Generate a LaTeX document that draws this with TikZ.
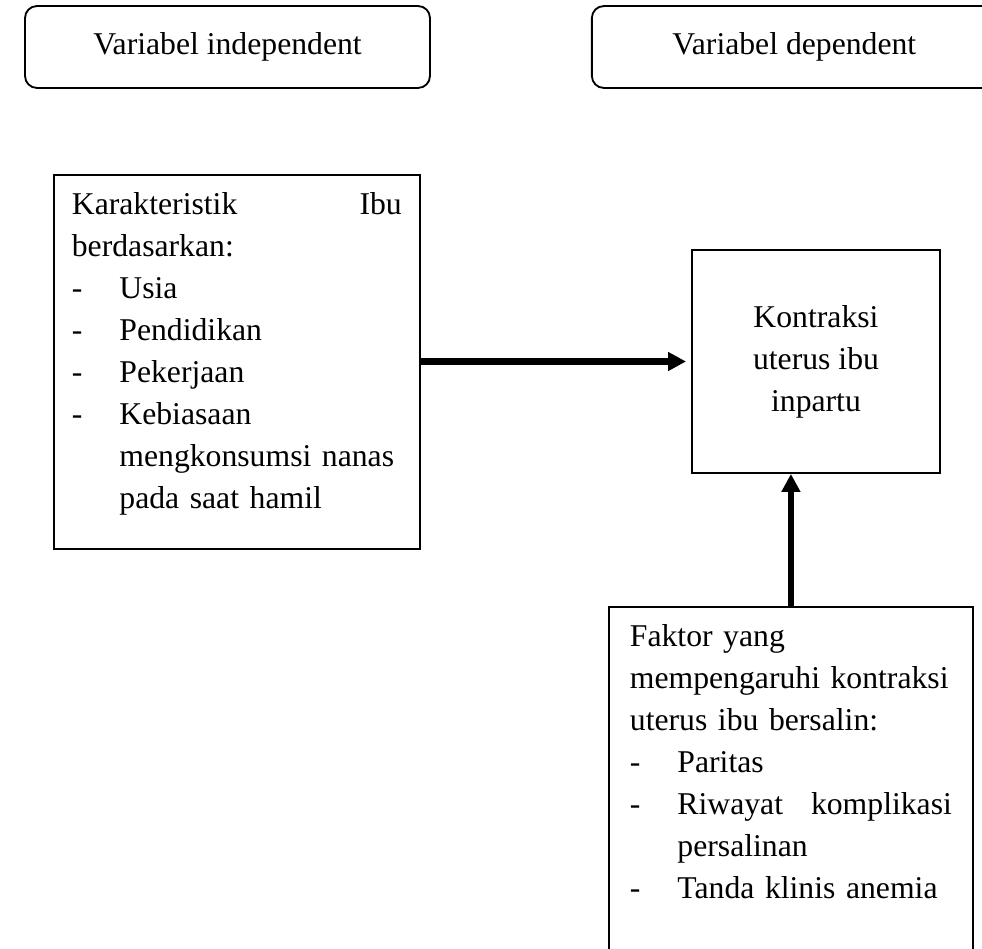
\documentclass[tikz,border=0pt]{standalone}
\usepackage{fontspec}
\setmainfont{Liberation Serif}
\usetikzlibrary{arrows.meta, positioning}

\newcommand{\butir}[1]{\par\hangindent=1.5em\hangafter=1\makebox[1.5em][l]{-}#1\par}

\begin{document}
\begin{tikzpicture}[x=0.0133cm, y=-0.0133cm,
    font=\fontsize{12pt}{15.9pt}\selectfont,
    kotak/.style={rectangle, draw, line width=0.7pt},
    judul/.style={kotak, rounded corners=4.5pt, minimum width=153.3pt,
                  minimum height=31pt, inner sep=0pt},
    isi/.style={kotak, align=left, anchor=north west, inner ysep=0pt,
                text height=14.8pt},
    panah/.style={-{Triangle[length=6.8pt, width=6.8pt]}, line width=2.4pt}
  ]
    \useasboundingbox (0,0) rectangle (982,949);
    \clip (0,0) rectangle (982,949);

    \node[judul] (indep) at (227.5,47) {Variabel independent};
    \node[judul, right=60.6pt of indep] (dep) {Variabel dependent};

    \node[isi, text width=124.9pt, inner xsep=6.8pt, text depth=126.8pt] (kar) at (53,174)
      {Karakteristik\hfill Ibu\\berdasarkan:
       \butir{Usia}\butir{Pendidikan}\butir{Pekerjaan}
       \butir{Kebiasaan\newline mengkonsumsi nanas\newline pada saat hamil}};
    \node[kotak, align=center, minimum width=93.9pt, minimum height=84.4pt,
          inner sep=0pt] (kontraksi) at (816,361.5) {Kontraksi\\uterus ibu\\inpartu};
    \node[isi, text width=121.9pt, inner xsep=7.95pt, text depth=116.2pt] (faktor) at (608,606)
      {Faktor yang\\mempengaruhi kontraksi\\uterus ibu bersalin:
       \butir{Paritas}
       \butir{Riwayat\hfill komplikasi\newline persalinan}
       \butir{Tanda klinis anemia}};

    \draw[panah, shorten >=1.9pt] (kar.east |- kontraksi.west) -- (kontraksi.west);
    \draw[panah] (faktor.north) -- (faktor.north |- kontraksi.south);
  \end{tikzpicture}
\end{document}
